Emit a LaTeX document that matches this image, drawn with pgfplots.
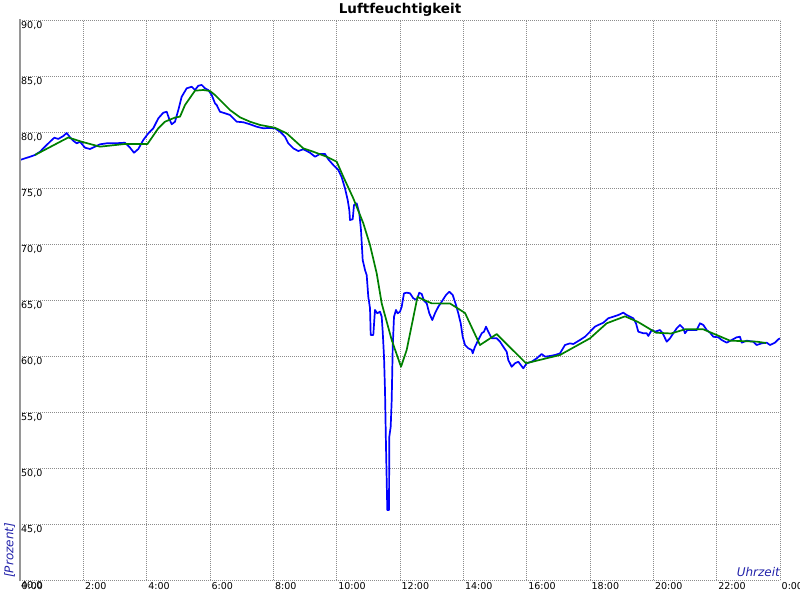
\documentclass[border=0pt]{standalone}
\usepackage{fontspec}
\setmainfont{DejaVu Sans}
\usepackage{pgfplots}
\pgfplotsset{compat=1.18}
\definecolor{lblblue}{RGB}{34,34,170}
\definecolor{gridgray}{RGB}{140,140,140}
\definecolor{axgray}{RGB}{150,150,150}
\begin{document}
\begin{tikzpicture}
\useasboundingbox (0,0) rectangle (800pt,600pt);
\begin{axis}[
  at={(20pt,20pt)}, anchor=south west,
  scale only axis, width=760pt, height=560pt,
  xmin=0, xmax=24, ymin=40, ymax=90,
  xtick={0,2,...,24},
  xticklabels={0:00,2:00,4:00,6:00,8:00,10:00,12:00,14:00,16:00,18:00,20:00,22:00,0:00},
  ytick={40,45,...,90},
  grid=major,
  grid style={dash pattern=on 0.9pt off 1.1pt, gridgray, line width=0.9pt},
  major tick length=0pt,
  axis line style={draw=none},
  tick label style={font=\fontsize{9.5}{11}\selectfont},
  /pgf/number format/assume math mode=true,
  yticklabel style={/pgf/number format/.cd, fixed, fixed zerofill, precision=1, use comma, /tikz/.cd, anchor=north west, inner sep=0pt, xshift=1pt, yshift=-1.6pt},
  xticklabel style={anchor=north west, inner sep=0pt, xshift=1.5pt, yshift=-2.7pt},
  clip=true,
]
\addplot[blue, line width=1.7pt, line join=round] coordinates {
(0,77.5)(0.158,77.65)(0.316,77.79)(0.474,77.95)(0.632,78.24)(0.789,78.69)(0.947,79.13)(1.083,79.49)(1.209,79.38)(1.367,79.64)(1.475,79.91)(1.579,79.53)(1.683,79.22)(1.791,78.99)(1.895,79.13)(2.053,78.60)(2.211,78.48)(2.368,78.69)(2.526,78.90)(2.738,78.99)(3.0,78.99)(3.316,79.04)(3.474,78.60)(3.600,78.15)(3.736,78.48)(3.894,79.29)(4.052,79.88)(4.209,80.33)(4.367,81.22)(4.525,81.72)(4.633,81.81)(4.705,81.22)(4.791,80.69)(4.895,80.92)(4.999,81.96)(5.106,83.15)(5.264,83.90)(5.422,84.04)(5.526,83.75)(5.631,84.13)(5.738,84.20)(5.842,83.90)(5.946,83.75)(6.054,83.30)(6.158,82.56)(6.211,82.41)(6.316,81.81)(6.474,81.67)(6.632,81.52)(6.736,81.22)(6.843,80.92)(7.052,80.87)(7.263,80.69)(7.475,80.47)(7.683,80.33)(7.841,80.36)(8.053,80.33)(8.210,80.03)(8.368,79.58)(8.473,78.99)(8.631,78.54)(8.788,78.30)(8.946,78.46)(9.158,78.15)(9.316,77.79)(9.474,78.04)(9.631,78.04)(9.736,77.56)(9.894,77.05)(10.052,76.61)(10.159,75.96)(10.263,74.97)(10.348,73.93)(10.399,73.04)(10.421,72.14)(10.506,72.21)(10.547,73.48)(10.632,73.63)(10.715,72.74)(10.768,71.25)(10.822,68.57)(10.895,67.68)(10.948,67.23)(10.999,65.29)(11.053,64.26)(11.075,61.88)(11.157,61.88)(11.210,64.11)(11.283,63.81)(11.368,63.96)(11.422,63.51)(11.454,62.17)(11.495,59.94)(11.526,56.96)(11.558,51.90)(11.599,46.25)(11.653,46.25)(11.662,52.79)(11.706,53.69)(11.738,56.07)(11.770,60.83)(11.811,63.51)(11.874,64.11)(11.927,63.81)(12.0,63.96)(12.054,64.40)(12.126,65.60)(12.211,65.65)(12.316,65.60)(12.420,65.15)(12.527,65.0)(12.609,65.65)(12.685,65.54)(12.758,64.94)(12.843,64.71)(12.925,63.81)(13.020,63.21)(13.105,63.81)(13.210,64.40)(13.317,64.85)(13.453,65.45)(13.557,65.74)(13.664,65.45)(13.768,64.55)(13.841,63.81)(13.917,62.92)(13.980,61.72)(14.053,60.98)(14.157,60.69)(14.264,60.54)(14.296,60.24)(14.368,60.83)(14.473,61.43)(14.580,62.03)(14.652,62.17)(14.716,62.62)(14.788,62.17)(14.896,61.58)(15.053,61.58)(15.158,61.28)(15.262,60.83)(15.369,60.38)(15.420,59.64)(15.527,59.04)(15.631,59.35)(15.736,59.49)(15.812,59.20)(15.894,58.90)(16.001,59.35)(16.159,59.49)(16.317,59.79)(16.474,60.18)(16.579,59.94)(16.737,60.0)(16.895,60.09)(17.053,60.24)(17.210,60.98)(17.368,61.13)(17.473,61.07)(17.684,61.43)(17.842,61.72)(18.0,62.17)(18.158,62.62)(18.262,62.77)(18.420,62.97)(18.578,63.37)(18.736,63.51)(18.894,63.66)(19.052,63.87)(19.159,63.66)(19.263,63.51)(19.367,63.37)(19.452,62.92)(19.525,62.17)(19.683,62.03)(19.790,62.03)(19.841,61.79)(19.948,62.32)(20.053,62.17)(20.210,62.32)(20.295,62.03)(20.422,61.28)(20.526,61.58)(20.631,62.03)(20.738,62.47)(20.842,62.77)(20.946,62.47)(21.0,62.03)(21.073,62.32)(21.262,62.32)(21.369,62.32)(21.473,62.92)(21.578,62.77)(21.685,62.32)(21.789,62.08)(21.894,61.72)(22.052,61.67)(22.159,61.43)(22.317,61.19)(22.474,61.43)(22.632,61.67)(22.736,61.72)(22.790,61.19)(22.948,61.37)(23.157,61.28)(23.264,60.98)(23.422,61.13)(23.580,61.19)(23.684,60.98)(23.842,61.19)(23.947,61.49)(24.0,61.58)
};
\addplot[black!50!green, line width=1.7pt, line join=round] coordinates {
(0.474,77.95)(1.525,79.51)(1.948,79.13)(2.526,78.69)(3.316,78.93)(4.026,78.93)(4.367,80.33)(4.579,80.92)(4.895,81.29)(5.053,81.37)(5.211,82.41)(5.526,83.69)(5.788,83.75)(5.999,83.66)(6.158,83.30)(6.316,82.86)(6.632,81.96)(6.947,81.31)(7.263,80.92)(7.579,80.63)(8.053,80.38)(8.422,79.88)(8.946,78.54)(9.262,78.24)(9.685,77.79)(10.001,77.35)(10.209,76.01)(10.525,74.08)(10.841,71.85)(11.053,69.91)(11.264,67.38)(11.422,64.70)(11.738,61.43)(12.032,59.04)(12.211,60.54)(12.552,65.27)(13.0,64.70)(13.579,64.69)(14.053,63.84)(14.526,60.98)(15.054,61.96)(15.979,59.35)(17.053,60.09)(18.0,61.58)(18.527,62.92)(19.105,63.54)(19.516,63.04)(20.084,62.08)(20.558,62.01)(21.0,62.38)(21.578,62.38)(22.421,61.37)(23.274,61.28)(23.558,61.16)
};
\end{axis}
\draw[axgray, line width=2.5pt] (20pt,19pt) -- (20pt,581pt);
\node[anchor=base, inner sep=0pt, font=\fontsize{13.5}{15}\selectfont\bfseries] at (400pt,586.7pt) {Luftfeuchtigkeit};
\node[anchor=base east, inner sep=0pt, text=lblblue, font=\fontsize{12}{14}\selectfont\itshape] at (780pt,24pt) {Uhrzeit};
\node[rotate=90, anchor=base west, inner sep=0pt, text=lblblue, font=\fontsize{12}{14}\selectfont\itshape] at (13.3pt,22pt) {[Prozent]};
\end{tikzpicture}
\end{document}
